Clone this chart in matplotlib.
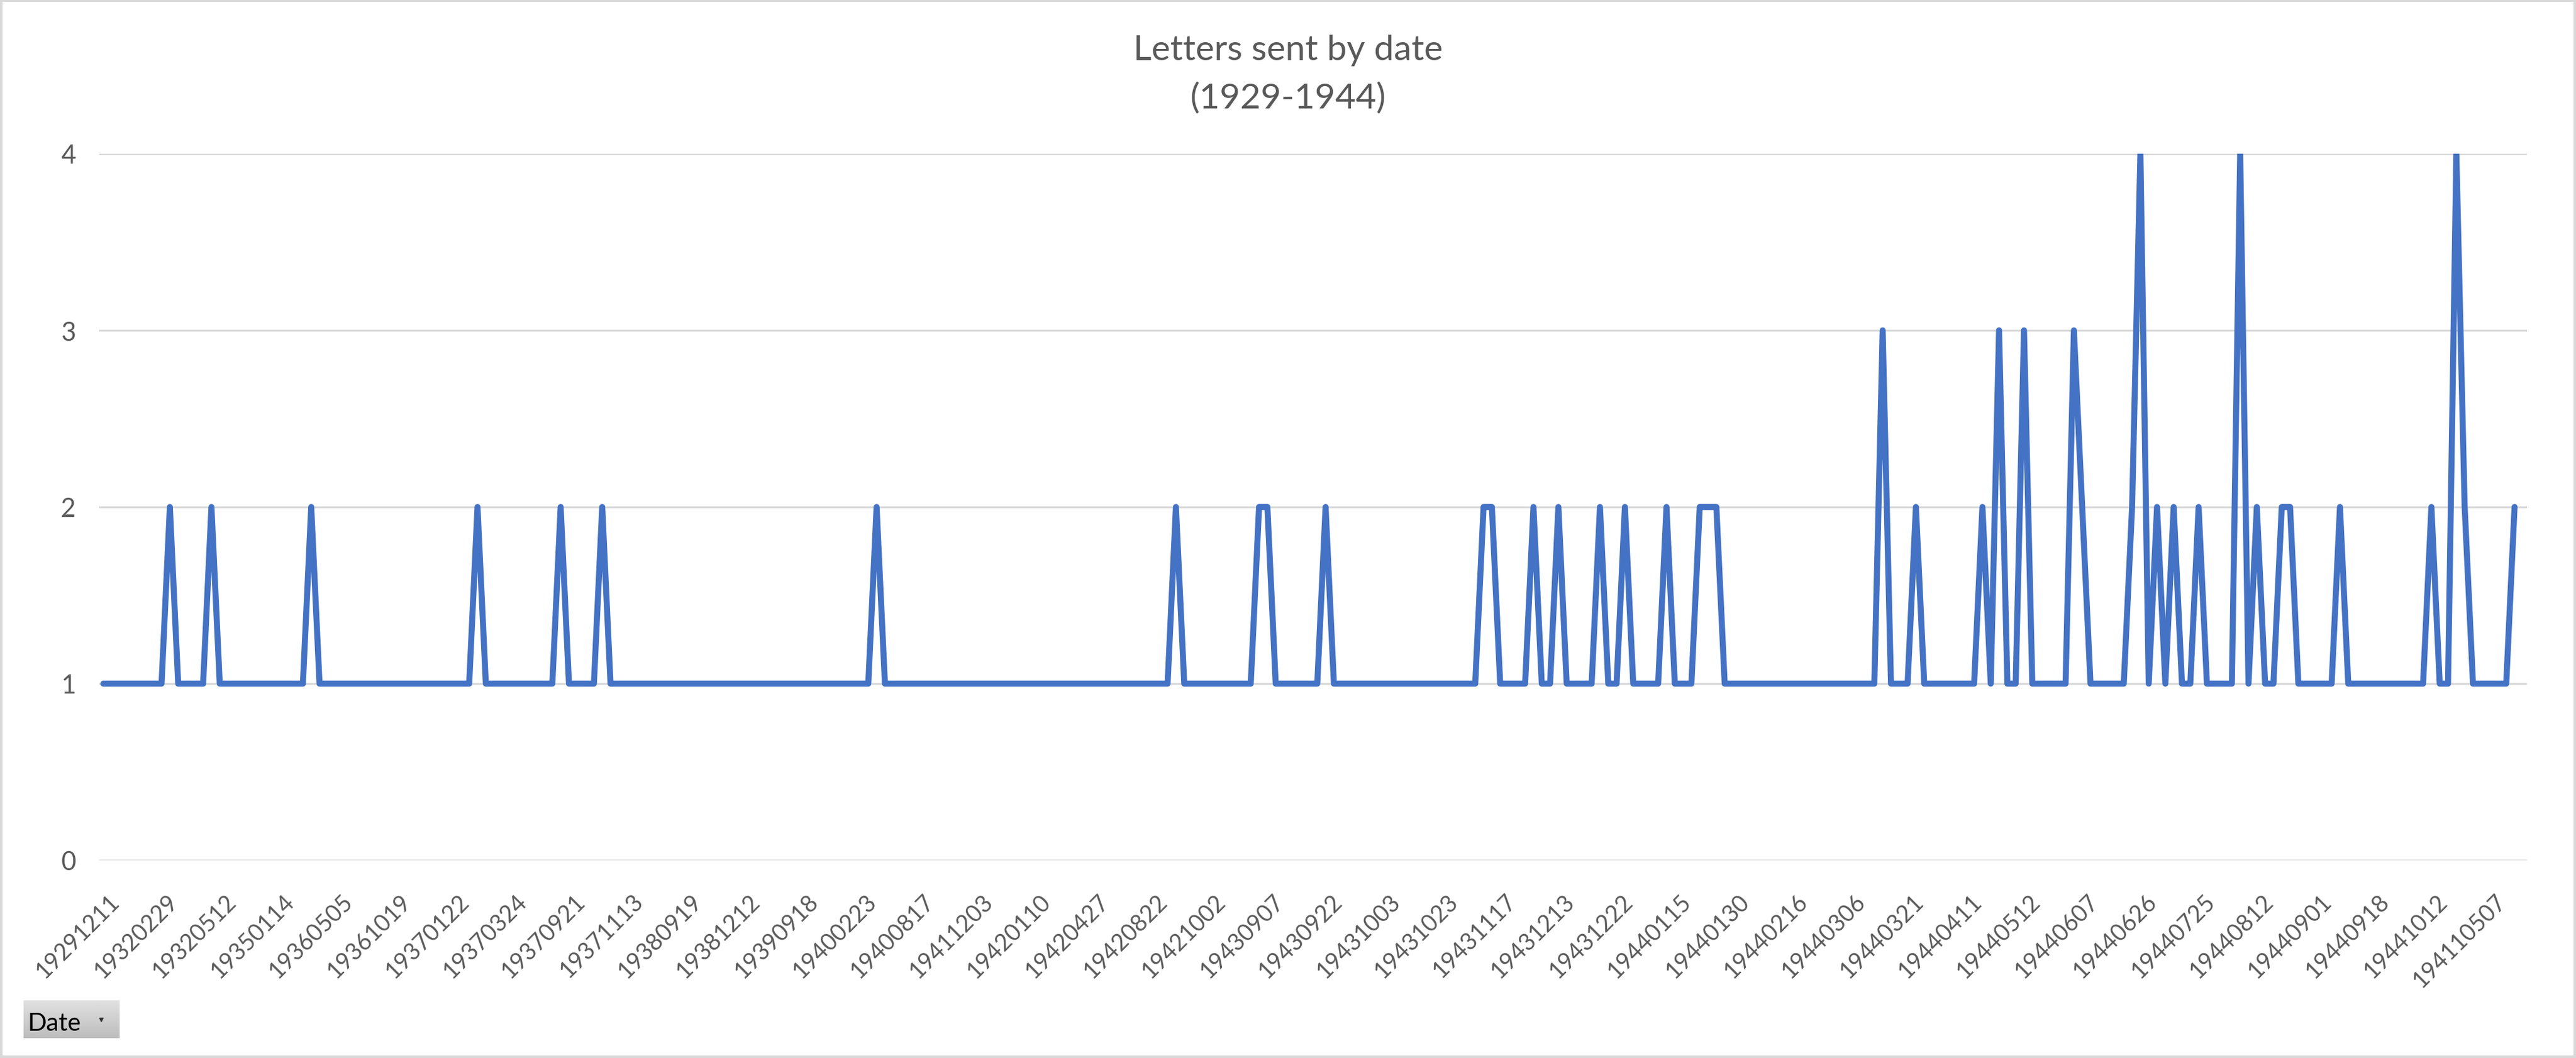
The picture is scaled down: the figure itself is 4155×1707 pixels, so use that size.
import numpy as np
import matplotlib
matplotlib.use("Agg")
import matplotlib.pyplot as plt
import matplotlib.transforms as mtransforms
from matplotlib.patches import Rectangle

plt.rcParams['font.family'] = ['Lato', 'DejaVu Sans']

# letters per date (one value per category)
letters = [
    1, 1, 1, 1, 1, 1, 1, 1, 2, 1,
    1, 1, 1, 2, 1, 1, 1, 1, 1, 1,
    1, 1, 1, 1, 1, 2, 1, 1, 1, 1,
    1, 1, 1, 1, 1, 1, 1, 1, 1, 1,
    1, 1, 1, 1, 1, 2, 1, 1, 1, 1,
    1, 1, 1, 1, 1, 2, 1, 1, 1, 1,
    2, 1, 1, 1, 1, 1, 1, 1, 1, 1,
    1, 1, 1, 1, 1, 1, 1, 1, 1, 1,
    1, 1, 1, 1, 1, 1, 1, 1, 1, 1,
    1, 1, 1, 2, 1, 1, 1, 1, 1, 1,
    1, 1, 1, 1, 1, 1, 1, 1, 1, 1,
    1, 1, 1, 1, 1, 1, 1, 1, 1, 1,
    1, 1, 1, 1, 1, 1, 1, 1, 1, 2,
    1, 1, 1, 1, 1, 1, 1, 1, 1, 2,
    2, 1, 1, 1, 1, 1, 1, 2, 1, 1,
    1, 1, 1, 1, 1, 1, 1, 1, 1, 1,
    1, 1, 1, 1, 1, 1, 2, 2, 1, 1,
    1, 1, 2, 1, 1, 2, 1, 1, 1, 1,
    2, 1, 1, 2, 1, 1, 1, 1, 2, 1,
    1, 1, 2, 2, 2, 1, 1, 1, 1, 1,
    1, 1, 1, 1, 1, 1, 1, 1, 1, 1,
    1, 1, 1, 1, 3, 1, 1, 1, 2, 1,
    1, 1, 1, 1, 1, 1, 2, 1, 3, 1,
    1, 3, 1, 1, 1, 1, 1, 3, 2, 1,
    1, 1, 1, 1, 2, 4, 1, 2, 1, 2,
    1, 1, 2, 1, 1, 1, 1, 4, 1, 2,
    1, 1, 2, 2, 1, 1, 1, 1, 1, 2,
    1, 1, 1, 1, 1, 1, 1, 1, 1, 1,
    2, 1, 1, 4, 2, 1, 1, 1, 1, 1,
    2,
]

# every 7th category is labelled on the axis
date_labels = [
    "19291211", "19320229", "19320512", "19350114", "19360505", "19361019",
    "19370122", "19370324", "19370921", "19371113", "19380919", "19381212",
    "19390918", "19400223", "19400817", "19411203", "19420110", "19420427",
    "19420822", "19421002", "19430907", "19430922", "19431003", "19431023",
    "19431117", "19431213", "19431222", "19440115", "19440130", "19440216",
    "19440306", "19440321", "19440411", "19440512", "19440607", "19440626",
    "19440725", "19440812", "19440901", "19440918", "19441012", "194110507",
]
label_step = 7
n_categories = len(letters) + 1   # pivot chart keeps a trailing (blank) slot

W, H = 4155, 1708
fig = plt.figure(figsize=(W / 100, H / 100), dpi=100)
text_col = '#595959'

ax = fig.add_axes([160 / W, 1 - 1389 / H, (4076 - 160) / W, (1389 - 249) / H])
x = np.arange(len(letters))
ax.plot(x, letters, color='#4472C4', lw=7, solid_joinstyle='round',
        solid_capstyle='round', zorder=3)

ax.set_xlim(-0.5, n_categories - 0.5)
ax.set_ylim(0, 4)
ax.set_yticks([0, 1, 2, 3, 4])
ax.yaxis.grid(True, color='#D9D9D9', lw=2.2)
ax.set_axisbelow(True)
for s in ax.spines.values():
    s.set_visible(False)

ticks = np.arange(len(date_labels)) * label_step
ax.set_xticks(ticks)
ax.set_xticklabels(date_labels, rotation=45, ha='right', va='top',
                   rotation_mode='anchor')
ax.tick_params(axis='x', length=0, pad=34, labelsize=27, labelcolor=text_col)
ax.tick_params(axis='y', length=0, pad=27, labelsize=30, labelcolor=text_col)
offset = mtransforms.ScaledTranslation(0.08, 0, fig.dpi_scale_trans)
for lbl in ax.get_xticklabels():
    lbl.set_transform(lbl.get_transform() + offset)

# title
fig.text(0.5, 1 - 97 / H, "Letters sent by date", ha='center', va='baseline',
         fontsize=41, color=text_col)
fig.text(0.5, 1 - 175 / H, "(1929-1944)", ha='center', va='baseline',
         fontsize=41, color=text_col)

# chart border
fig.patches.append(Rectangle((2 / W, 2 / H), 1 - 4 / W, 1 - 4 / H,
                             transform=fig.transFigure, fill=False,
                             edgecolor='#D9D9D9', lw=3))

# "Date" field button of the pivot chart
bax = fig.add_axes([38 / W, 1 - 1676 / H, 154 / W, 61 / H])
grad = np.linspace(0.88, 0.74, 50).reshape(-1, 1)
bax.imshow(grad, cmap='gray', vmin=0, vmax=1, aspect='auto',
           extent=[0, 1, 0, 1])
bax.text(0.04, 0.22, "Date", fontsize=29, color='black', va='baseline')
bax.plot([0.81], [0.5], marker='v', ms=5, color='#333333')
bax.set_xlim(0, 1)
bax.set_ylim(0, 1)
bax.axis('off')

fig.savefig("out.png", dpi=100)
